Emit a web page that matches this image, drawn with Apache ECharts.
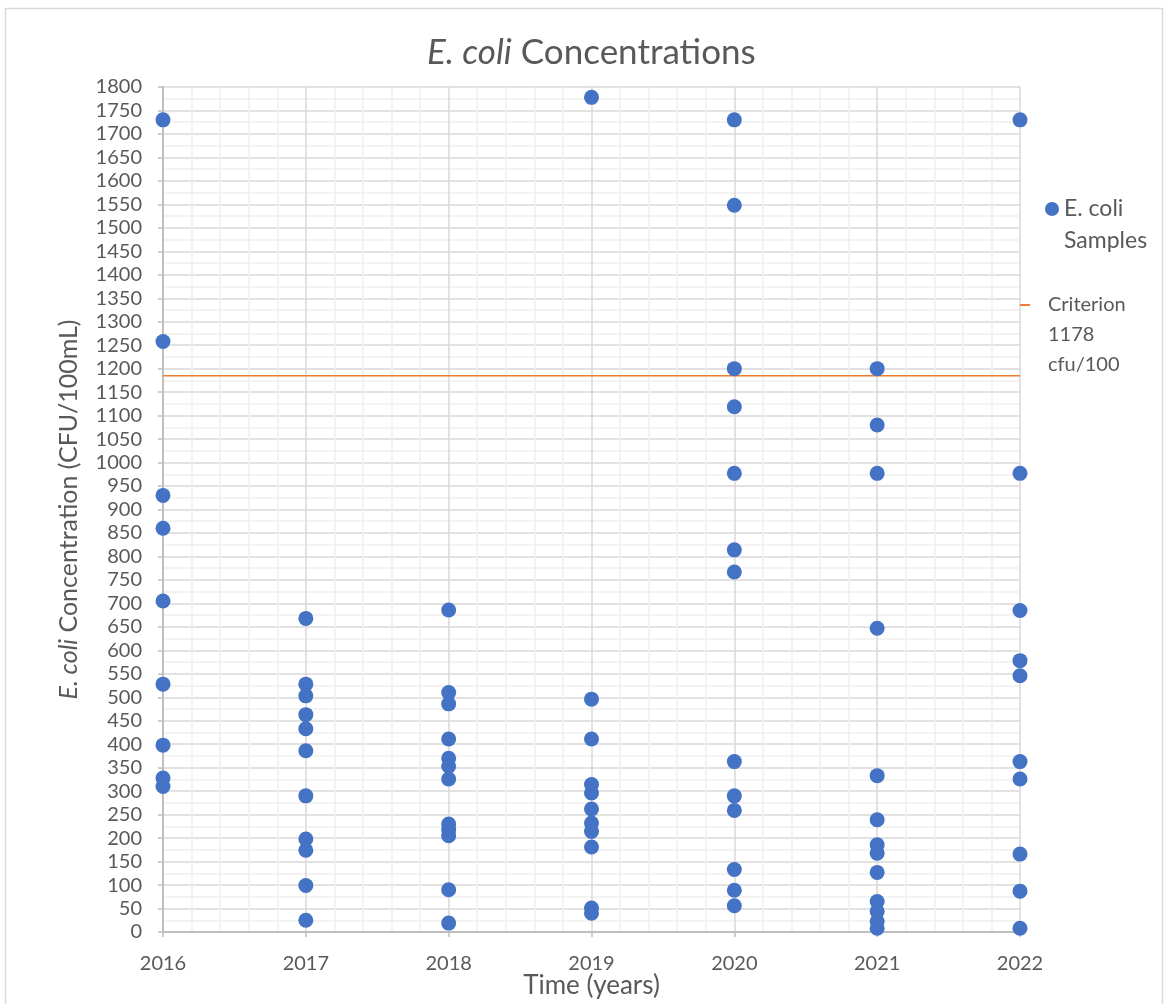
<!DOCTYPE html>
<html>
<head>
<meta charset="utf-8">
<script src="https://cdn.jsdelivr.net/npm/echarts@6/dist/echarts.min.js"></script>
<style>
html,body{margin:0;padding:0;background:#fff;}
#chart{width:1168px;height:1004px;}
</style>
</head>
<body>
<div id="chart"></div>
<script>
// ---- data ----
var years = [2016, 2017, 2018, 2019, 2020, 2021, 2022];
var samples2016 = [1730, 1258, 930, 860, 705, 528, 398, 328, 310];
var samples2017 = [668, 528, 503, 463, 433, 386, 290, 198, 174, 99, 25];
var samples2018 = [686, 510, 486, 411, 370, 353, 326, 230, 218, 205, 90, 19];
var samples2019 = [1778, 496, 411, 314, 296, 262, 232, 214, 181, 51, 40];
var samples2020 = [1730, 1548, 1200, 1119, 977, 814, 767, 363, 290, 259, 133, 89, 56];
var samples2021 = [1200, 1080, 977, 647, 333, 239, 186, 168, 127, 65, 44, 23, 8];
var samples2022 = [1730, 977, 685, 578, 546, 363, 326, 166, 87, 8];
var criterionValue = 1185;
var yTicks = { min: 0, max: 1800, step: 50 };
var xTicks = { min: 2016, max: 2022, step: 1 };

var allSamples = [samples2016, samples2017, samples2018, samples2019, samples2020, samples2021, samples2022];
var scatterData = [];
years.forEach(function (yr, i) {
  allSamples[i].forEach(function (v) { scatterData.push([yr, v]); });
});
var criterionData = [[xTicks.min, criterionValue], [xTicks.max, criterionValue]];

var FONT = 'Lato';
var GREY = '#595959';

var chart = echarts.init(document.getElementById('chart'), null, { renderer: 'canvas' });
chart.setOption({
  animation: false,
  backgroundColor: '#ffffff',
  title: {
    text: '{i|E. coli} Concentrations',
    left: 427,
    top: 35,
    padding: 0,
    textStyle: {
      fontFamily: FONT, fontSize: 35, fontWeight: 'normal', color: GREY,
      rich: { i: { fontFamily: FONT, fontSize: 35, fontStyle: 'italic', color: GREY } }
    }
  },
  graphic: [{
    type: 'rect', silent: true, z: -10,
    shape: { x: 5.5, y: 8.5, width: 1157, height: 1020 },
    style: { fill: 'none', stroke: '#d9d9d9', lineWidth: 1.5 }
  }],
  grid: { left: 163, right: 148, top: 87, bottom: 72, containLabel: false, outerBoundsMode: 'none' },
  legend: [{
    data: ['E. coli Samples'],
    left: 1045, top: 161, padding: 0,
    icon: 'circle', itemWidth: 14, itemHeight: 14,
    selectedMode: false,
    formatter: function () { return '\nE. coli\nSamples'; },
    textStyle: { fontFamily: FONT, fontSize: 23, color: GREY, lineHeight: 32 }
  }, {
    data: ['Criterion 1178 cfu/100'],
    left: 1020, top: 230, padding: 0,
    icon: 'rect', itemWidth: 10, itemHeight: 2,
    selectedMode: false,
    formatter: function () { return '\n\nCriterion\n1178\ncfu/100'; },
    textStyle: { fontFamily: FONT, fontSize: 20, color: GREY, lineHeight: 30, padding: [0, 0, 0, 13] }
  }],
  xAxis: {
    type: 'value',
    min: xTicks.min, max: xTicks.max, interval: xTicks.step,
    name: 'Time (years)',
    nameLocation: 'middle',
    nameGap: 41,
    nameMoveOverlap: false,
    nameTextStyle: { fontFamily: FONT, fontSize: 26, color: GREY },
    axisLine: { show: true, onZero: false, lineStyle: { color: '#bfbfbf', width: 2 } },
    axisTick: { show: true, length: 5, lineStyle: { color: '#bfbfbf', width: 1.5 } },
    axisLabel: { fontFamily: FONT, fontSize: 20, color: GREY, margin: 22, formatter: function (v) { return String(v); } },
    splitLine: { show: true, lineStyle: { color: '#d9d9d9', width: 1.5 } },
    minorTick: { show: false, splitNumber: 5 },
    minorSplitLine: { show: true, lineStyle: { color: '#efefef', width: 1.5 } }
  },
  yAxis: {
    type: 'value',
    min: yTicks.min, max: yTicks.max, interval: yTicks.step,
    name: '{i|E. coli} Concentration (CFU/100mL)',
    nameLocation: 'middle',
    nameGap: 82,
    nameMoveOverlap: false,
    nameTextStyle: {
      fontFamily: FONT, fontSize: 25, color: GREY,
      rich: { i: { fontFamily: FONT, fontSize: 25, fontStyle: 'italic', color: GREY } }
    },
    axisLine: { show: true, onZero: false, lineStyle: { color: '#bfbfbf', width: 2 } },
    axisTick: { show: true, length: 5, lineStyle: { color: '#bfbfbf', width: 1.5 } },
    axisLabel: { fontFamily: FONT, fontSize: 20, color: GREY, margin: 21, formatter: function (v) { return String(v); } },
    splitLine: { show: true, lineStyle: { color: '#d9d9d9', width: 1.5 } },
    minorTick: { show: false, splitNumber: 2 },
    minorSplitLine: { show: true, lineStyle: { color: '#efefef', width: 1.5 } }
  },
  series: [{
    name: 'E. coli Samples',
    type: 'scatter',
    data: scatterData,
    symbol: 'circle',
    symbolSize: 15,
    itemStyle: { color: '#4472C4', opacity: 1 },
    z: 3
  }, {
    name: 'Criterion 1178 cfu/100',
    type: 'line',
    data: criterionData,
    showSymbol: false,
    symbol: 'none',
    itemStyle: { color: '#ED7D31' },
    lineStyle: { color: '#ED7D31', width: 1.5 },
    z: 2
  }]
});
</script>
</body>
</html>
